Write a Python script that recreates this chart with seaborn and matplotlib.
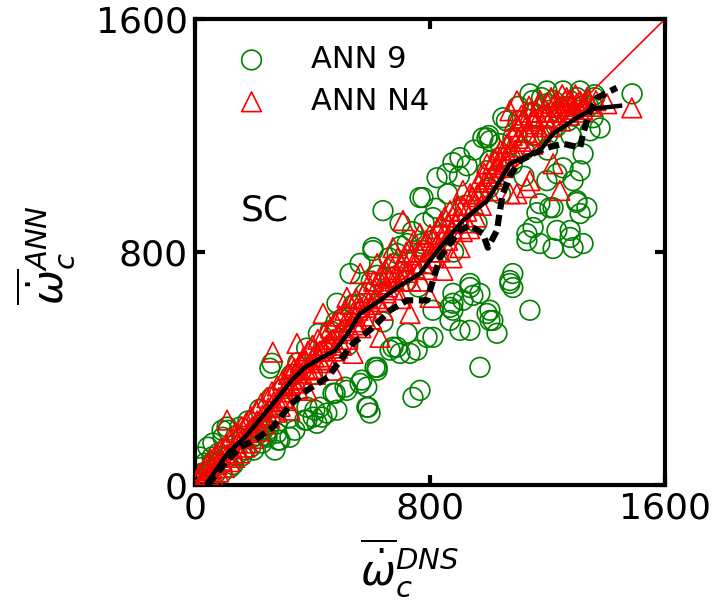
import numpy as np
import pandas as pd
import matplotlib
matplotlib.use("Agg")
import matplotlib.pyplot as plt
import seaborn as sns

# ---------------- data ----------------
# ANN 9 (green circles): (DNS, ANN) pairs
ann9_pts = [
    (640, 942), (980, 1192), (902, 1124), (858, 1069), (766, 987), (698, 898), (606, 805),
    (878, 1107), (926, 1096), (1004, 1113), (824, 1055), (776, 987), (810, 918), (994, 1192),
    (1038, 1172), (773, 829), (606, 815), (688, 795), (562, 761), (528, 726), (483, 624),
    (664, 713), (722, 829), (776, 805),
    (1164, 935), (1219, 952), (1300, 970), (1311, 932), (1151, 884), (1232, 874), (1130, 839),
    (1174, 829), (1219, 812), (1277, 850), (1287, 815), (1321, 829), (1208, 952), (1277, 874),
    (1130, 863), (1334, 952), (1174, 966),
    (1140, 600), (970, 404), (742, 301), (766, 325), (1014, 565), (1028, 521), (994, 589),
    (902, 531), (946, 651), (970, 658), (1072, 692), (1082, 678), (878, 624), (878, 600),
    (810, 600), (810, 507), (722, 521), (756, 463), (674, 473), (698, 452), (585, 336),
    (585, 267), (596, 247), (562, 349), (620, 394), (517, 325), (470, 315), (402, 233),
    (415, 212), (381, 223), (449, 247), (483, 257), (426, 267), (381, 267), (279, 178),
    (289, 154), (323, 164), (245, 164), (221, 188), (197, 164), (868, 610), (912, 634),
    (936, 692), (1004, 600), (1004, 565), (936, 531), (868, 565), (790, 507), (688, 473),
    (732, 452), (664, 463), (620, 404), (936, 678), (878, 658), (1082, 726), (1072, 702),
    (1048, 1261), (1082, 1192), (1004, 1182), (1038, 1124), (994, 1079), (1140, 1343),
    (1198, 1353), (1253, 1353), (1311, 1353), (1198, 1309), (1277, 1319), (1355, 1261),
    (1379, 1226), (1345, 1216), (1488, 1343), (1321, 1137), (1311, 1079), (1287, 1045),
    (1253, 1089), (1232, 1069), (1198, 1045), (1300, 976),
    (589, 267), (613, 404), (568, 360), (511, 336), (477, 315), (408, 257), (432, 233),
    (374, 223), (340, 188), (283, 154), (272, 120), (228, 144), (170, 120), (112, 96),
    (58, 96), (44, 130), (92, 188), (34, 75), (24, 41), (17, 96), (61, 144), (95, 164),
    (153, 199), (255, 401), (109, 199), (262, 418), (112, 188),
    (10, 30), (20, 60), (30, 15), (50, 50), (70, 40), (80, 110), (120, 60), (140, 100),
    (160, 160), (190, 130), (210, 170), (230, 210), (250, 190),
    (300, 330), (350, 420), (400, 380), (420, 520), (480, 560), (520, 480), (560, 620),
    (600, 700), (640, 560), (680, 760), (720, 700), (760, 680), (800, 760), (840, 860),
    (880, 800), (920, 960), (960, 900), (1000, 1020), (1040, 1000), (1080, 1100),
    (1120, 1060), (1160, 1200), (1200, 1150), (1240, 1280), (1280, 1200), (1320, 1300),
    (1360, 1330), (1100, 1300), (1150, 1320), (1060, 1250), (1000, 1200), (950, 1150),
    (900, 1060), (860, 1000), (820, 950), (780, 900), (740, 870), (700, 820), (660, 780),
    (620, 720), (580, 660), (540, 620), (500, 570), (460, 530), (440, 460), (380, 470),
    (330, 380), (260, 300), (220, 260), (180, 220), (140, 170), (100, 120), (60, 80),
    (30, 40), (15, 20), (45, 15), (90, 40), (130, 70), (160, 100), (200, 120), (240, 170),
    (280, 210), (320, 230),
    (1100, 1250), (1150, 1280), (1180, 1330), (1220, 1320), (1260, 1300), (1300, 1330),
    (1340, 1300), (1360, 1340), (1230, 1230), (1270, 1250), (1150, 1200), (1120, 1150),
    (1200, 1200),
]

# ANN N4 (red triangles): (DNS, ANN) pairs
annN4_pts = [
    (8, 15), (15, 35), (20, 8), (28, 50), (32, 22), (40, 70), (45, 35), (52, 90), (58, 55),
    (62, 30), (70, 105), (75, 70), (80, 45), (88, 125), (92, 85), (100, 60), (105, 140),
    (110, 105), (109, 223), (118, 80), (122, 160), (128, 125), (135, 95), (140, 180),
    (145, 145), (150, 110), (158, 200), (162, 160), (170, 130), (175, 215), (180, 180),
    (180, 144), (190, 235), (195, 200), (200, 160), (208, 255), (212, 220), (220, 185),
    (225, 280), (230, 240), (238, 210), (245, 300), (250, 265), (255, 230), (262, 320),
    (265, 456), (268, 285), (275, 250), (280, 340), (285, 300), (290, 270), (298, 360),
    (305, 320), (310, 290), (318, 380), (323, 257), (325, 345), (330, 410), (338, 400),
    (342, 365), (347, 486), (350, 330), (358, 420), (362, 385), (370, 440), (375, 400),
    (381, 325), (385, 460), (392, 420), (400, 480), (405, 440), (410, 380), (418, 500),
    (425, 460), (432, 420), (436, 589), (440, 520), (448, 480), (455, 440), (462, 540),
    (470, 394), (470, 500), (478, 560), (485, 470), (492, 580), (500, 530), (510, 600),
    (517, 644), (520, 500), (528, 620), (538, 452), (540, 560), (548, 640), (555, 600),
    (562, 726), (565, 540), (575, 660), (582, 610), (590, 690), (600, 570), (608, 700),
    (615, 640), (620, 760), (630, 507), (632, 720), (640, 600), (648, 740), (655, 680),
    (665, 760), (674, 815), (680, 700), (690, 780), (700, 640), (708, 908), (712, 740),
    (720, 800), (732, 589), (735, 700), (745, 840), (750, 760), (766, 863), (770, 700),
    (780, 820), (790, 740), (800, 644), (800, 860), (812, 780), (825, 880), (835, 800),
    (844, 737), (850, 920), (860, 840), (868, 942), (875, 780), (885, 900), (895, 960),
    (902, 815), (910, 870), (912, 1011), (925, 940), (935, 880), (945, 990), (955, 920),
    (965, 1040), (975, 960), (985, 1070), (994, 1103), (1000, 1010), (1010, 1060),
    (1020, 1120), (1030, 1050), (1040, 1150), (1050, 1090), (1062, 1172), (1065, 1130),
    (1072, 1000), (1072, 1285), (1080, 1200), (1090, 1150), (1096, 1000), (1096, 1319),
    (1100, 1230), (1110, 1180), (1120, 1260), (1130, 1021), (1130, 1210), (1140, 1045),
    (1140, 1280), (1150, 1170), (1157, 1257), (1160, 1240), (1170, 1300), (1180, 1200),
    (1190, 1260), (1200, 1310), (1210, 1230), (1219, 1103), (1220, 1280), (1230, 1320),
    (1242, 1011), (1245, 1250), (1255, 1300), (1265, 1330), (1275, 1270), (1285, 1310),
    (1295, 1340), (1311, 1319), (1320, 1290), (1335, 1330), (1350, 1300), (1365, 1320),
    (1402, 1309), (1487, 1295),
    (300, 300), (312, 340), (325, 380), (337, 350), (350, 395), (362, 360), (375, 430),
    (387, 395), (400, 400), (412, 460), (425, 430), (437, 470), (450, 430), (462, 490),
    (475, 460), (487, 520), (500, 480), (512, 560), (525, 540), (537, 590), (550, 550),
    (562, 610), (575, 580), (587, 640), (600, 620), (612, 670), (625, 630), (637, 690),
    (650, 660), (662, 710), (675, 670), (687, 730), (700, 700), (712, 770), (725, 730),
    (737, 790), (750, 740), (762, 800), (775, 760), (787, 840), (800, 800), (812, 850),
    (825, 830), (837, 900), (850, 860), (862, 900), (875, 880), (887, 940), (900, 920),
    (912, 960), (925, 900), (937, 1000), (950, 960), (962, 1000), (975, 1010), (987, 1040),
    (1000, 1050), (1012, 1100), (1025, 1090), (1037, 1120), (1050, 1130), (1062, 1110),
    (1075, 1160), (1087, 1250), (1100, 1190), (1112, 1270), (1125, 1230), (1137, 1300),
    (1150, 1250), (1162, 1280), (1175, 1320), (1187, 1230), (1200, 1280), (1212, 1330),
    (1225, 1260), (1237, 1300), (1250, 1340), (1262, 1280), (1275, 1320), (1287, 1290),
    (1300, 1310), (1312, 1280), (1325, 1310), (1340, 1320),
]

# conditional means (black lines)
mean_n4_dns = [41, 112, 170, 228, 283, 330, 374, 432, 477, 521, 562, 630, 688, 766, 834,
               912, 994, 1038, 1072, 1117, 1174, 1219, 1300, 1355, 1447]
mean_n4_ann = [7, 110, 164, 233, 301, 360, 404, 438, 462, 521, 589, 634, 678, 726, 815,
               908, 976, 1045, 1103, 1124, 1148, 1206, 1261, 1292, 1302]

mean_9_dns = [44, 102, 153, 204, 266, 323, 381, 453, 494, 538, 606, 664, 722, 790, 810,
              834, 868, 902, 936, 980, 997, 1028, 1038, 1048, 1072, 1106, 1150, 1198,
              1253, 1311, 1321, 1345, 1368, 1436]
mean_9_ann = [0, 75, 130, 154, 199, 274, 325, 370, 428, 486, 541, 600, 634, 634, 702,
              781, 829, 874, 891, 863, 815, 874, 942, 1000, 1062, 1113, 1137, 1158,
              1172, 1158, 1206, 1285, 1329, 1364]

axis_max = 1600
ticks = [0, 800, 1600]

# ---------------- figure ----------------
plt.rcParams['font.family'] = ['DejaVu Sans']
plt.rcParams['mathtext.fontset'] = 'dejavusans'

fig = plt.figure(figsize=(7.14, 6.06), dpi=100)
ax = fig.add_axes([195 / 714, 1 - 485 / 606, 470 / 714, 466 / 606])

df9 = pd.DataFrame(ann9_pts, columns=["dns", "ann"])
dfn4 = pd.DataFrame(annN4_pts, columns=["dns", "ann"])

sns.scatterplot(data=df9, x="dns", y="ann", ax=ax, marker="o", s=200,
                facecolors="none", edgecolors="green", linewidths=1.2,
                label="ANN 9", zorder=2)
sns.lineplot(x=[0, axis_max], y=[0, axis_max], ax=ax, color="red", lw=1.2,
             zorder=2.5, legend=False)
sns.scatterplot(data=dfn4, x="dns", y="ann", ax=ax, marker="^", s=200,
                facecolors="none", edgecolors="red", linewidths=1.2,
                label="ANN N4", zorder=3)
sns.lineplot(x=mean_n4_dns, y=mean_n4_ann, ax=ax, color="black", lw=3.2,
             sort=False, zorder=5, legend=False)
sns.lineplot(x=mean_9_dns, y=mean_9_ann, ax=ax, color="black", lw=4.5,
             sort=False, zorder=5, legend=False, dashes=False,
             linestyle=(0, (1.8, 0.9)))

ax.set_xlim(0, axis_max)
ax.set_ylim(0, axis_max)
ax.set_xticks(ticks)
ax.set_yticks(ticks)
ax.tick_params(direction="in", length=7, width=3, labelsize=26, pad=5,
               top=True, right=True)
for sp in ax.spines.values():
    sp.set_linewidth(3)

ax.set_xlabel(r"$\overline{\dot{\omega}}_c^{DNS}$", fontsize=30)
ax.set_ylabel(r"$\overline{\dot{\omega}}_c^{ANN}$", fontsize=30)
ax.xaxis.set_label_coords(0.457, -0.11)
ax.yaxis.set_label_coords(-0.25, 0.494)

ax.text(238, 942, "SC", fontsize=26, ha="center", va="center")

leg = ax.legend(loc="upper left", frameon=False, fontsize=22, handletextpad=0.95,
                labelspacing=0.42, borderaxespad=0.45, markerscale=1.0)

fig.savefig("out.png", dpi=100)
